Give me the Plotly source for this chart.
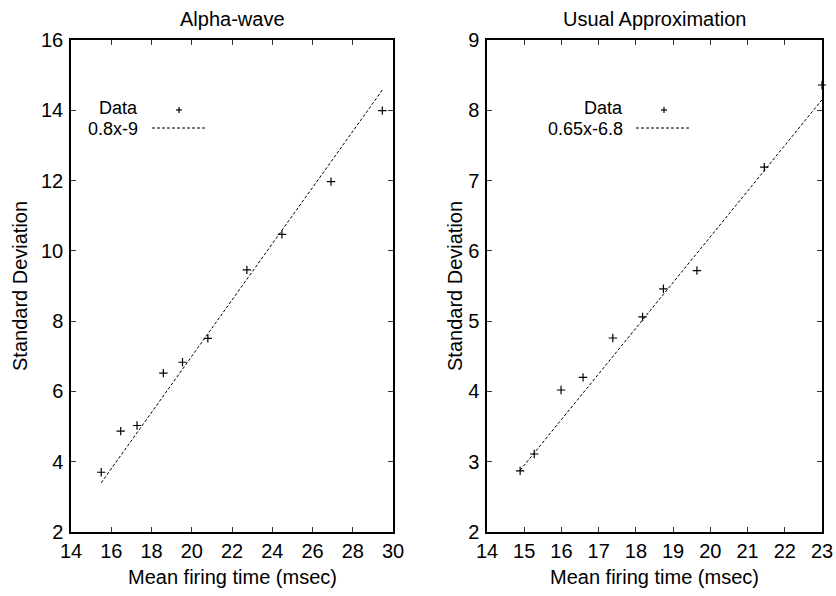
import plotly.graph_objects as go

# ---- data ----
alpha_x = [15.5, 16.47, 17.28, 18.59, 19.54, 20.8, 22.74, 24.48, 26.92, 29.47]
alpha_y = [3.70, 4.87, 5.03, 6.52, 6.83, 7.51, 9.46, 10.47, 11.97, 13.99]
alpha_slope = 0.8
alpha_intercept = -9.0

usual_x = [14.89, 15.27, 15.99, 16.58, 17.38, 18.18, 18.74, 19.64, 21.45, 23.0]
usual_y = [2.87, 3.11, 4.02, 4.20, 4.76, 5.06, 5.46, 5.72, 7.19, 8.36]
usual_slope = 0.65
usual_intercept = -6.8

titles = ["Alpha-wave", "Usual Approximation"]
fit_labels = ["0.8x-9", "0.65x-6.8"]
data_label = "Data"
x_title = "Mean firing time (msec)"
y_title = "Standard Deviation"

left_xticks = [14, 16, 18, 20, 22, 24, 26, 28, 30]
left_yticks = [2, 4, 6, 8, 10, 12, 14, 16]
right_xticks = [14, 15, 16, 17, 18, 19, 20, 21, 22, 23]
right_yticks = [2, 3, 4, 5, 6, 7, 8, 9]

W, H = 836, 596
FONT = "Liberation Sans, Arial, Helvetica, sans-serif"
FS = 20
LEG_FS = 18

def px(x):
    return x / W

def py(y):
    return 1 - y / H

fig = go.Figure()

def add_panel(xs, ys, slope, intercept, xa, ya):
    fx = [min(xs), max(xs)]
    fy = [slope * v + intercept for v in fx]
    fig.add_trace(go.Scatter(
        x=fx, y=fy, mode="lines", xaxis=xa, yaxis=ya,
        line=dict(color="black", width=1, dash="3px,2px"),
        showlegend=False, hoverinfo="skip", cliponaxis=False))
    fig.add_trace(go.Scatter(
        x=xs, y=ys, mode="markers", xaxis=xa, yaxis=ya,
        marker=dict(symbol="cross-thin", size=6, color="black",
                    line=dict(color="black", width=1.2)),
        showlegend=False, hoverinfo="x+y", cliponaxis=False))

add_panel(alpha_x, alpha_y, alpha_slope, alpha_intercept, "x", "y")
add_panel(usual_x, usual_y, usual_slope, usual_intercept, "x2", "y2")

axis_common = dict(
    showline=True, linecolor="black", linewidth=1.5, mirror="allticks",
    ticks="inside", ticklen=5, tickwidth=1, tickcolor="#333",
    showgrid=False, zeroline=False, automargin=False,
    tickfont=dict(family=FONT, size=FS, color="black"),
)

L = (71, 393)
R = (487, 822)
TOP, BOT = 40, 532

fig.update_layout(
    template="none",
    width=W, height=H,
    margin=dict(l=0, r=0, t=0, b=0, pad=0),
    paper_bgcolor="white", plot_bgcolor="white",
    font=dict(family=FONT, size=FS, color="black"),
    xaxis=dict(domain=[px(L[0]), px(L[1])], range=[14, 30],
               tickvals=left_xticks, anchor="y", **axis_common),
    yaxis=dict(domain=[py(BOT), py(TOP)], range=[2, 16],
               tickvals=left_yticks, anchor="x", ticklabelstandoff=2, **axis_common),
    xaxis2=dict(domain=[px(R[0]), px(R[1])], range=[14, 23],
                tickvals=right_xticks, anchor="y2", **axis_common),
    yaxis2=dict(domain=[py(BOT), py(TOP)], range=[2, 9],
                tickvals=right_yticks, anchor="x2", ticklabelstandoff=2, **axis_common),
)

annotations = []
shapes = []
panels = [
    dict(x0=L[0], x1=L[1], ytitle_x=20, text_r=139, mark_x=179, line=(152, 206)),
    dict(x0=R[0], x1=R[1], ytitle_x=455, text_r=624, mark_x=664, line=(636, 691)),
]
for i, p in enumerate(panels):
    cx = (p["x0"] + p["x1"]) / 2
    annotations.append(dict(text=titles[i], x=px(cx), y=py(19), xref="paper", yref="paper",
                            xanchor="center", yanchor="middle", showarrow=False,
                            font=dict(size=FS)))
    annotations.append(dict(text=x_title, x=px(cx), y=py(577), xref="paper", yref="paper",
                            xanchor="center", yanchor="middle", showarrow=False,
                            font=dict(size=FS)))
    annotations.append(dict(text=y_title, x=px(p["ytitle_x"]), y=py((TOP + BOT) / 2),
                            xref="paper", yref="paper", textangle=-90,
                            xanchor="center", yanchor="middle", showarrow=False,
                            font=dict(size=FS)))
    # legend
    annotations.append(dict(text=data_label, x=px(p["text_r"]), y=py(108), xref="paper", yref="paper",
                            xanchor="right", yanchor="middle", showarrow=False,
                            font=dict(size=LEG_FS), borderpad=0))
    annotations.append(dict(text=fit_labels[i], x=px(p["text_r"]), y=py(129), xref="paper", yref="paper",
                            xanchor="right", yanchor="middle", showarrow=False,
                            font=dict(size=LEG_FS), borderpad=0))
    mx, my = p["mark_x"], 110
    shapes.append(dict(type="line", xref="paper", yref="paper",
                       x0=px(mx - 3), x1=px(mx + 3), y0=py(my), y1=py(my),
                       line=dict(color="black", width=1.2)))
    shapes.append(dict(type="line", xref="paper", yref="paper",
                       x0=px(mx), x1=px(mx), y0=py(my - 3), y1=py(my + 3),
                       line=dict(color="black", width=1.2)))
    shapes.append(dict(type="line", xref="paper", yref="paper",
                       x0=px(p["line"][0]), x1=px(p["line"][1]), y0=py(128), y1=py(128),
                       line=dict(color="black", width=1, dash="3px,2px")))

fig.update_layout(annotations=annotations, shapes=shapes)

fig.write_html("out.html",
               config={"displayModeBar": False},
               post_script="document.body.style.margin='0px';document.body.style.padding='0px';")
